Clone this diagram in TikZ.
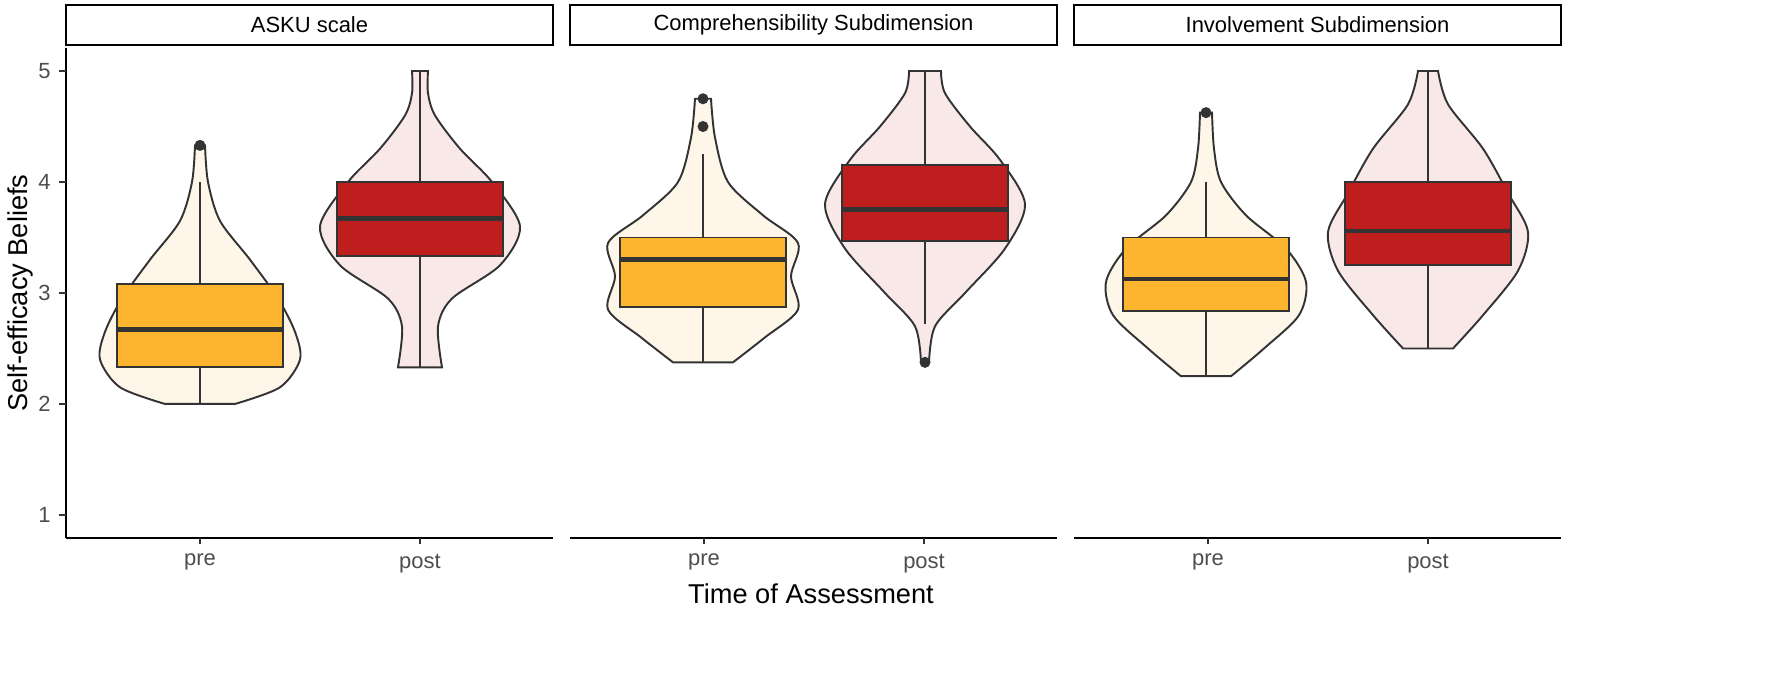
\documentclass[tikz,border=0pt]{standalone}
\usepackage{fontspec}
\setmainfont{Liberation Sans}
\definecolor{previol}{HTML}{FEF6E9}
\definecolor{postviol}{HTML}{F9E8E8}
\definecolor{prebox}{HTML}{FDB52F}
\definecolor{postbox}{HTML}{BE1E1E}
\definecolor{ink}{HTML}{333333}
\definecolor{ticktxt}{HTML}{4D4D4D}
\tikzset{
  violin/.style={draw=ink,line width=1.1pt},
  boxstyle/.style={draw=ink,line width=1.1pt},
  strip/.style={draw=black,line width=1pt,minimum width=487*0.02cm,minimum height=0.8cm,font=\fontsize{12.5}{14}\selectfont,inner sep=0pt},
  ticklab/.style={text=ticktxt,font=\fontsize{12.5}{14}\selectfont}
}
% boxplot: centre, whisker low, q1, median, q3, whisker high, colour
\newcommand\boxplt[7]{%
  \draw[ink,line width=1.1pt] (#1,#2) -- (#1,#6);
  \draw[boxstyle,fill=#7] (#1-83,#3) rectangle (#1+83,#5);
  \draw[ink,line width=2.6pt] (#1-83,#4) -- (#1+83,#4);
}
\newcommand\outlier[2]{\fill[ink] (#1,#2) circle (5.5 and 0.05);}
\begin{document}
\begin{tikzpicture}[x=0.02cm,y=2.22cm]
\useasboundingbox (0,-0.532) rectangle (1771,5.640);

% panels: strip titles and axes
\foreach \px/\lab [count=\i] in {66/ASKU scale,570/Comprehensibility Subdimension,1074/Involvement Subdimension}{
  \node[strip] (strip\i) at (\px+243.5,5.415) {\lab};
  \draw[black,line width=1pt] (\px,0.793) -- (\px+487,0.793);
  \draw[ink,line width=1pt] (\px+134,0.793) -- (\px+134,0.74) node[ticklab,below=2pt] {pre};
  \draw[ink,line width=1pt] (\px+354,0.793) -- (\px+354,0.74) node[ticklab,below=2pt] {post};
}
\draw[black,line width=1pt] (66,0.793) -- (66,5.207);
\foreach \v in {1,...,5}
  \draw[ink,line width=1pt] (66,\v) -- (59,\v) node[ticklab,left=1pt] {\v};

\node[font=\fontsize{15.5}{18}\selectfont,rotate=90] (ytitle) at (20,3) {Self-efficacy Beliefs};
\node[font=\fontsize{15.5}{18}\selectfont] (xtitle) at (811,0.29) {Time of Assessment};

% ASKU scale
\begin{scope}[shift={(200,0)}]
\draw[violin,fill=previol] plot[smooth] coordinates {(35,2.0) (80,2.15) (100,2.4) (95,2.65) (78,2.95) (50,3.3) (20,3.65) (8,4.0) (5,4.33)}
  -- plot[smooth] coordinates {(-5,4.33) (-8,4.0) (-20,3.65) (-50,3.3) (-78,2.95) (-95,2.65) (-100,2.4) (-80,2.15) (-35,2.0)} -- cycle;
\end{scope}
\begin{scope}[shift={(420,0)}]
\draw[violin,fill=postviol] plot[smooth] coordinates {(22,2.33) (18,2.7) (32,2.95) (80,3.25) (100,3.6) (72,4.0) (40,4.3) (15,4.6) (8,4.8) (8,5.0)}
  -- plot[smooth] coordinates {(-8,5.0) (-8,4.8) (-15,4.6) (-40,4.3) (-72,4.0) (-100,3.6) (-80,3.25) (-32,2.95) (-18,2.7) (-22,2.33)} -- cycle;
\end{scope}
\boxplt{200}{2.0}{2.33}{2.67}{3.08}{4.0}{prebox}
\outlier{200}{4.33}
\boxplt{420}{2.33}{3.33}{3.67}{4.0}{5.0}{postbox}

% Comprehensibility
\begin{scope}[shift={(703,0)}]
\draw[violin,fill=previol] plot[smooth] coordinates {(30,2.375) (62,2.6) (95,2.85) (88,3.15) (95,3.45) (60,3.7) (25,4.0) (12,4.4) (8,4.75)}
  -- plot[smooth] coordinates {(-8,4.75) (-12,4.4) (-25,4.0) (-60,3.7) (-95,3.45) (-88,3.15) (-95,2.85) (-62,2.6) (-30,2.375)} -- cycle;
\end{scope}
\begin{scope}[shift={(925,0)}]
\draw[violin,fill=postviol] plot[smooth] coordinates {(4,2.375) (10,2.7) (40,3.0) (80,3.4) (100,3.8) (75,4.2) (45,4.5) (20,4.8) (16,5.0)}
  -- plot[smooth] coordinates {(-16,5.0) (-20,4.8) (-45,4.5) (-75,4.2) (-100,3.8) (-80,3.4) (-40,3.0) (-10,2.7) (-4,2.375)} -- cycle;
\end{scope}
\boxplt{703}{2.375}{2.875}{3.3}{3.5}{4.25}{prebox}
\outlier{703}{4.5}
\outlier{703}{4.75}
\boxplt{925}{2.72}{3.47}{3.75}{4.15}{5.0}{postbox}
\outlier{925}{2.375}

% Involvement
\begin{scope}[shift={(1206,0)}]
\draw[violin,fill=previol] plot[smooth] coordinates {(25,2.25) (58,2.5) (93,2.8) (100,3.1) (80,3.4) (40,3.7) (15,4.0) (8,4.3) (6,4.625)}
  -- plot[smooth] coordinates {(-6,4.625) (-8,4.3) (-15,4.0) (-40,3.7) (-80,3.4) (-100,3.1) (-93,2.8) (-58,2.5) (-25,2.25)} -- cycle;
\end{scope}
\begin{scope}[shift={(1428,0)}]
\draw[violin,fill=postviol] plot[smooth] coordinates {(25,2.5) (55,2.8) (90,3.2) (100,3.55) (80,3.9) (55,4.3) (20,4.7) (10,5.0)}
  -- plot[smooth] coordinates {(-10,5.0) (-20,4.7) (-55,4.3) (-80,3.9) (-100,3.55) (-90,3.2) (-55,2.8) (-25,2.5)} -- cycle;
\end{scope}
\boxplt{1206}{2.25}{2.84}{3.125}{3.5}{4.0}{prebox}
\outlier{1206}{4.625}
\boxplt{1428}{2.5}{3.25}{3.56}{4.0}{5.0}{postbox}
\end{tikzpicture}
\end{document}
